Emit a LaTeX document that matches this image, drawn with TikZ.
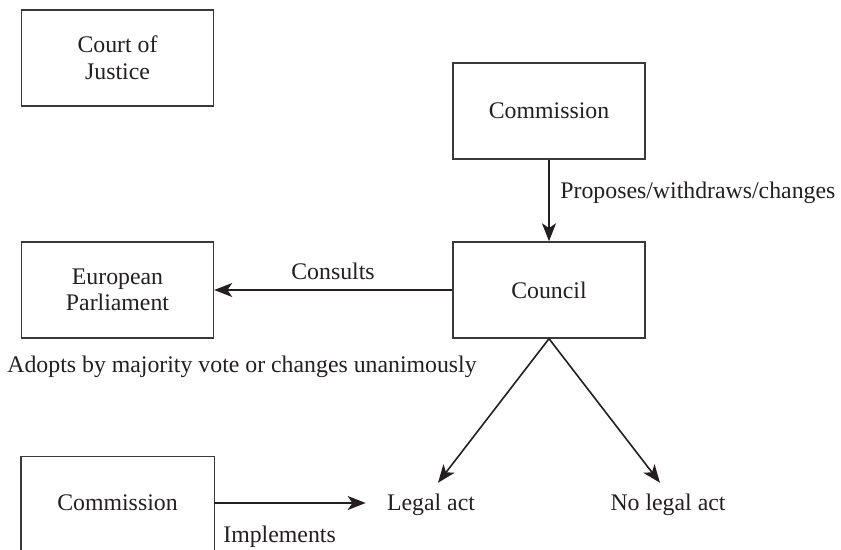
\documentclass[tikz,border=0pt]{standalone}
\usepackage{fontspec}
\setmainfont{Liberation Serif}
\usetikzlibrary{arrows.meta}
\definecolor{ink}{HTML}{231F20}
\definecolor{edge}{HTML}{3A3A3A}
\begin{document}
\begin{tikzpicture}[x=0.5pt,y=-0.5pt,
  every node/.style={text=ink,font=\fontsize{11.9}{13.3}\selectfont},
  box/.style={draw=edge,line width=0.7pt,minimum width=96pt,minimum height=48pt,inner sep=0pt,align=center},
  lbl/.style={inner sep=0pt,anchor=west},
  arr/.style={draw=ink,line width=0.8pt,-{Stealth[length=9pt,width=7pt,inset=2.4pt]}},
  target/.style={inner xsep=0pt,inner ysep=5.5pt}]
\useasboundingbox (0,0) rectangle (841,550);
\node[box] (court) at (117.5,58) {Court of\\Justice};
\node[box] (com1) at (549,111) {Commission};
\node[box] (council) at (549,290) {Council};
\node[box] (ep) at (117.5,290) {European\\Parliament};
\node[box,draw=none,minimum height=46pt] (com2) at (117.5,503) {Commission};
\draw[draw=edge,line width=0.7pt] (com2.south west) -- (com2.north west) -- (com2.north east) -- (com2.south east);
\node[target] (legal) at (431,505) {Legal act};
\node[target] (nolegal) at (668,505) {No legal act};
% connectors
\draw[arr] (com1.south) -- (council.north);
\node[lbl] (proplbl) at (560,193) {Proposes/withdraws/changes};
\draw[arr] (council.west) -- (ep.east);
\node[inner sep=0pt] (conslbl) at (333,271) {Consults};
\node[lbl] (adoptlbl) at (7,367) {Adopts by majority vote or changes unanimously};
\draw[arr] (council.south) -- ([xshift=3.5pt]legal.north);
\draw[arr] (council.south) -- ([xshift=-4pt]nolegal.north);
\draw[arr,shorten >=10.5pt] (com2.east) -- (com2.east -| legal.west);
\node[lbl] (implbl) at (223,537) {Implements};
\end{tikzpicture}
\end{document}
